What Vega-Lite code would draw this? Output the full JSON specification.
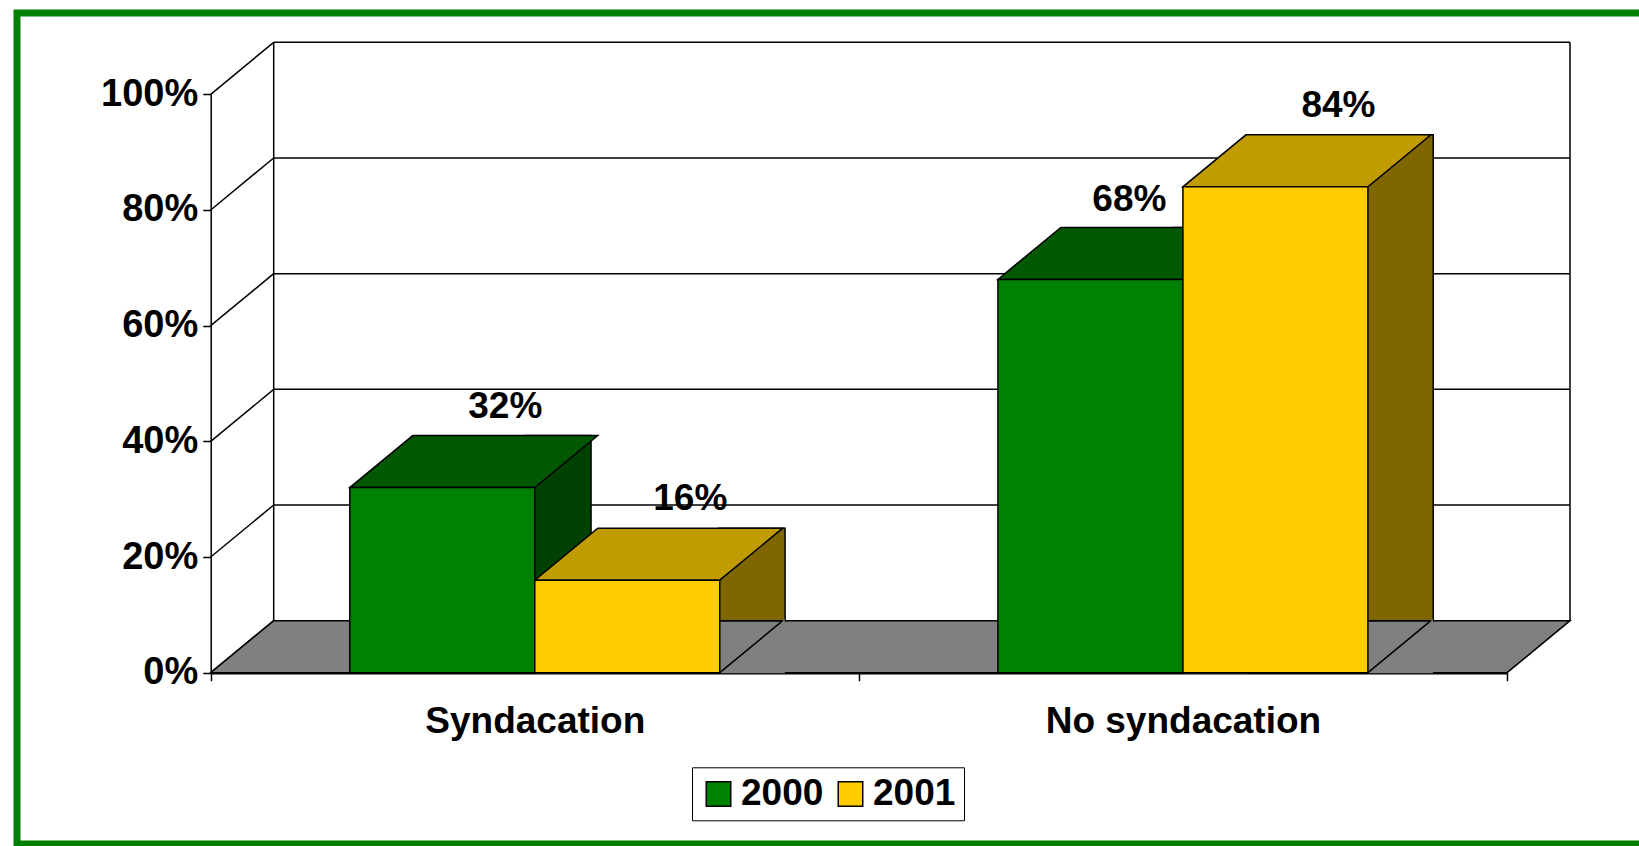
{
  "$schema": "https://vega.github.io/schema/vega-lite/v6.json",
  "width": 1626,
  "height": 831,
  "autosize": {"type": "none"},
  "padding": {"left": 17, "top": 13, "right": -4, "bottom": 2},
  "background": "white",
  "datasets": {
    "bars": [
      {"cat": "Syndacation", "year": "2000", "value": 0.32},
      {"cat": "Syndacation", "year": "2001", "value": 0.16},
      {"cat": "No syndacation", "year": "2000", "value": 0.68},
      {"cat": "No syndacation", "year": "2001", "value": 0.84}
    ],
    "ticks": [{"v": 0}, {"v": 0.2}, {"v": 0.4}, {"v": 0.6}, {"v": 0.8}, {"v": 1}],
    "one": [{"k": "wall"}]
  },
  "config": {
    "view": {"stroke": "#008000", "strokeWidth": 7},
    "axis": {
      "zindex": 1,
      "grid": false,
      "domainColor": "black",
      "tickColor": "black",
      "labelColor": "black",
      "labelFont": "Liberation Sans",
      "labelFontWeight": "bold",
      "labelLimit": 500
    },
    "axisY": {"offset": -193.7, "tickSize": 8, "tickWidth": 1.5, "domainWidth": 1.5, "labelFontSize": 38, "labelPadding": 5},
    "axisX": {"offset": -171.3, "tickSize": 8, "tickWidth": 1.5, "domainWidth": 2.5, "labelFontSize": 37, "labelPadding": 52, "labelBaseline": "alphabetic", "tickBand": "extent", "labelAngle": 0}
  },
  "resolve": {"scale": {"x": "independent"}},
  "layer": [
    {
      "layer": [
        {
          "data": {"name": "ticks"},
          "mark": {"type": "rule", "xOffset": 63, "x2Offset": 63, "yOffset": -52, "stroke": "black", "strokeWidth": 1.5},
          "encoding": {
            "x": {"datum": 0, "type": "quantitative", "scale": {"domain": [0, 1], "range": [193.7, 1490]}, "axis": null},
            "x2": {"datum": 1},
            "y": {"field": "v", "type": "quantitative", "title": null, "scale": {"domain": [0, 1], "range": [659.7, 81.3], "nice": false}, "axis": {"format": ".0%", "values": [0, 0.2, 0.4, 0.6, 0.8, 1], "title": null}}
          }
        },
        {
          "data": {"name": "one"},
          "mark": {"type": "rule", "xOffset": 63, "yOffset": -52, "y2Offset": -52, "stroke": "black", "strokeWidth": 1.5},
          "encoding": {
            "x": {"datum": 0, "type": "quantitative"},
            "y": {"datum": 0, "type": "quantitative", "title": null},
            "y2": {"datum": 1}
          }
        },
        {
          "data": {"name": "one"},
          "mark": {"type": "rule", "xOffset": 63, "yOffset": -52, "y2Offset": -52, "stroke": "black", "strokeWidth": 1.5},
          "encoding": {
            "x": {"datum": 1, "type": "quantitative"},
            "y": {"datum": 0, "type": "quantitative", "title": null},
            "y2": {"datum": 1}
          }
        },
        {
          "data": {"name": "ticks"},
          "mark": {"type": "point", "shape": "M0,0L63,-52", "size": 4, "filled": false, "opacity": 1, "stroke": "black", "strokeWidth": 1.5},
          "encoding": {
            "x": {"datum": 0, "type": "quantitative"},
            "y": {"field": "v", "type": "quantitative", "title": null}
          }
        },
        {
          "data": {"name": "one"},
          "mark": {"type": "point", "shape": "M0,0L1296.3,0L1359.3,-52L63,-52Z", "size": 4, "filled": true, "opacity": 1, "fill": "#808080", "stroke": "black", "strokeWidth": 1.5},
          "encoding": {
            "x": {"datum": 0, "type": "quantitative"},
            "y": {"datum": 0, "type": "quantitative", "title": null}
          }
        }
      ]
    },
    {
      "data": {"name": "bars"},
      "resolve": {"scale": {"color": "independent", "xOffset": "independent"}},
      "encoding": {
        "x": {"field": "cat", "type": "nominal", "sort": ["Syndacation", "No syndacation"], "title": null,
              "scale": {"type": "band", "domain": ["Syndacation", "No syndacation"], "range": [193.7, 1490], "paddingInner": 0, "paddingOuter": 0},
              "axis": {"orient": "bottom"}},
        "xOffset": {"field": "year", "type": "nominal", "scale": {"type": "band", "domain": ["2000", "2001"], "paddingInner": 0, "paddingOuter": 0.7518}}
      },
      "layer": [
        {
          "mark": {"type": "bar", "yOffset": -52, "stroke": "black", "strokeWidth": 1.5},
          "encoding": {
            "xOffset": {"field": "year", "type": "nominal", "scale": {"type": "band", "domain": ["2000", "2001"], "paddingInner": 0.65946, "paddingOuter": 1.08149, "align": 0.80987}},
            "y": {"field": "value", "type": "quantitative", "title": null},
            "color": {"field": "year", "type": "nominal", "scale": {"domain": ["2000", "2001"], "range": ["#004000", "#806600"]}, "legend": null}
          }
        },
        {
          "mark": {"type": "point", "shape": "M92.5,0.5L157.5,0.5L157.5,-53.6Z", "size": 4, "filled": true, "opacity": 1, "fill": "#808080", "strokeWidth": 0},
          "encoding": {
            "y": {"datum": 0, "type": "quantitative", "title": null}
          }
        },
        {
          "mark": {"type": "point", "shape": "M92.5,0L155.5,-52", "size": 4, "filled": false, "opacity": 1, "stroke": "black", "strokeWidth": 1.5},
          "encoding": {
            "y": {"datum": 0, "type": "quantitative", "title": null}
          }
        },
        {
          "mark": {"type": "point", "shape": "M-92.5,0L92.5,0L155.5,-52L-29.5,-52Z", "size": 4, "filled": true, "opacity": 1, "stroke": "black", "strokeWidth": 1.5},
          "encoding": {
            "y": {"field": "value", "type": "quantitative", "title": null},
            "color": {"field": "year", "type": "nominal", "scale": {"domain": ["2000", "2001"], "range": ["#005800", "#C09C00"]}, "legend": null}
          }
        },
        {
          "mark": {"type": "bar", "stroke": "black", "strokeWidth": 1.5},
          "encoding": {
            "y": {"field": "value", "type": "quantitative", "title": null},
            "color": {"field": "year", "type": "nominal", "scale": {"domain": ["2000", "2001"], "range": ["#008000", "#FFCC00"]},
                      "legend": {"orient": "none", "legendX": 675, "legendY": 754.3, "direction": "horizontal", "title": null,
                                 "symbolType": "square", "symbolSize": 600, "symbolStrokeColor": "black", "symbolStrokeWidth": 1.5, "symbolOpacity": 1,
                                 "labelFontSize": 37, "labelFont": "Liberation Sans", "labelFontWeight": "bold", "labelColor": "black",
                                 "strokeColor": "black", "padding": 8, "labelOffset": 4, "columnPadding": 8}}
          }
        },
        {
          "transform": [{"filter": "!(datum.cat == 'No syndacation' && datum.year == '2000')"}],
          "mark": {"type": "text", "dx": 63, "dy": -70, "baseline": "alphabetic", "align": "center", "font": "Liberation Sans", "fontSize": 37, "fontWeight": "bold", "color": "black"},
          "encoding": {
            "y": {"field": "value", "type": "quantitative", "title": null},
            "text": {"field": "value", "type": "quantitative", "format": ".0%"}
          }
        },
        {
          "transform": [{"filter": "datum.cat == 'No syndacation' && datum.year == '2000'"}],
          "mark": {"type": "text", "dx": 76, "dy": -68, "baseline": "alphabetic", "align": "right", "font": "Liberation Sans", "fontSize": 37, "fontWeight": "bold", "color": "black"},
          "encoding": {
            "y": {"field": "value", "type": "quantitative", "title": null},
            "text": {"field": "value", "type": "quantitative", "format": ".0%"}
          }
        }
      ]
    }
  ]
}
